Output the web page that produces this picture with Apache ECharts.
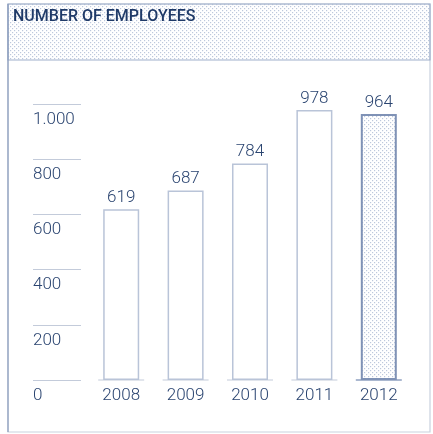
<!DOCTYPE html>
<html>
<head>
<meta charset="utf-8">
<script src="https://cdn.jsdelivr.net/npm/echarts@6/dist/echarts.min.js"></script>
<style>
  html, body { margin: 0; padding: 0; background: #fff; }
  #chart { width: 433px; height: 434px; }
</style>
</head>
<body>
<div id="chart"></div>
<script>
// data
var years = ['2008', '2009', '2010', '2011', '2012'];
var employees = [619, 687, 784, 978, 964];
var yTicks = [0, 200, 400, 600, 800, 1000];
var yTickLabels = ['0', '200', '400', '600', '800', '1.000'];
var title = 'NUMBER OF EMPLOYEES';

var navy = '#2a4470';
var font = 'Roboto, "DejaVu Sans", sans-serif';

// dotted fill used by the header band and the last bar
function dots(color) {
    var c = document.createElement('canvas');
    c.width = 4; c.height = 4;
    var ctx = c.getContext('2d');
    ctx.fillStyle = color;
    ctx.fillRect(0, 0, 1.2, 1.2);
    ctx.fillRect(2, 2, 1.2, 1.2);
    return c;
}
var dotPattern = { image: dots('#bdc8dc'), repeat: 'repeat' };

var myChart = echarts.init(document.getElementById('chart'));

var barData = employees.map(function (v, i) {
    if (i === employees.length - 1) {
        return {
            value: v,
            itemStyle: { color: dotPattern, borderColor: '#7f92b6', borderWidth: 2 }
        };
    }
    return v;
});

var option = {
    animation: false,
    graphic: [
        { type: 'rect', z: -10, shape: { x: 8, y: 4, width: 422, height: 428 },
          style: { fill: '#fff', stroke: '#c9d1de', lineWidth: 1.2 } },
        { type: 'rect', z: -9, shape: { x: 8, y: 4, width: 422, height: 56 },
          style: { fill: dotPattern, stroke: '#9fb0cc', lineWidth: 1.2 } },
        { type: 'line', z: -8, shape: { x1: 8, y1: 4, x2: 8, y2: 432 },
          style: { stroke: '#8a9cbc', lineWidth: 1.2 } },
        { type: 'text', left: 13, top: 9,
          style: { text: title, fill: '#1f3a68', font: '500 16px ' + font } }
    ],
    grid: [
        { left: 89, right: 22, top: 104, bottom: 54 },
        { left: 33, width: 48, top: 104, bottom: 54 }
    ],
    xAxis: [
        {
            type: 'category', gridIndex: 0, data: years,
            axisLine: { show: false }, axisTick: { show: false },
            axisLabel: { color: navy, fontSize: 17, fontWeight: 300, fontFamily: font, margin: 7 }
        },
        { type: 'category', gridIndex: 1, data: [''], show: false }
    ],
    yAxis: [
        { type: 'value', gridIndex: 0, min: 0, max: 1000, interval: 200, show: false },
        {
            type: 'value', gridIndex: 1, min: 0, max: 1000, interval: 200,
            axisLine: { show: false }, axisTick: { show: false },
            splitLine: { show: true, lineStyle: { color: '#c3cbda', width: 1 } },
            axisLabel: {
                inside: true, margin: 0, align: 'left', verticalAlign: 'top',
                padding: [7, 0, 0, 0],
                color: navy, fontSize: 17, fontWeight: 300, fontFamily: font,
                formatter: function (v) { return yTickLabels[yTicks.indexOf(v)]; }
            }
        }
    ],
    series: [
        {
            type: 'bar', data: barData, barWidth: 36,
            itemStyle: { color: '#fff', borderColor: '#b9c4d8', borderWidth: 1.5 },
            label: {
                show: true, position: 'top', distance: 3,
                color: navy, fontSize: 17, fontWeight: 300, fontFamily: font
            }
        },
        {
            // baseline segment under each bar
            type: 'custom', data: years.map(function (y, i) { return [i, 0]; }),
            renderItem: function (params, api) {
                var p = api.coord([api.value(0), 0]);
                var w = 46;
                var strong = params.dataIndex === years.length - 1;
                return {
                    type: 'line',
                    shape: { x1: p[0] - w / 2, y1: p[1], x2: p[0] + w / 2, y2: p[1] },
                    style: { stroke: strong ? '#8fa0c0' : '#c3cbda', lineWidth: strong ? 1.6 : 1 }
                };
            },
            encode: { x: 0, y: 1 },
            z: 1
        }
    ]
};

myChart.setOption(option);
</script>
</body>
</html>
